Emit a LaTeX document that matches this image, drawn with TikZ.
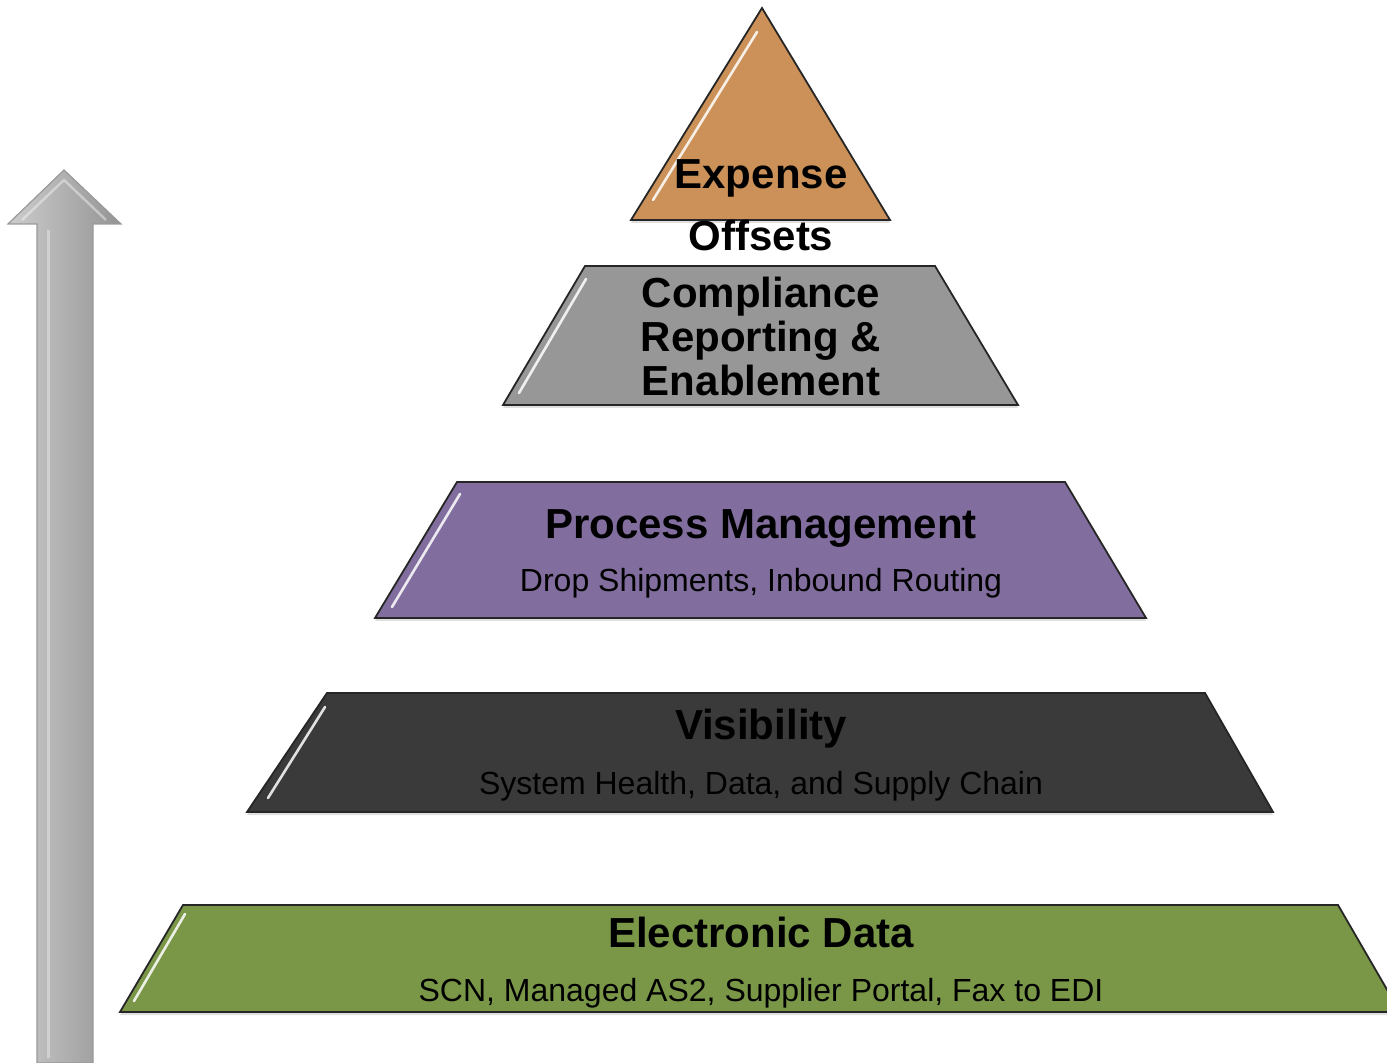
\documentclass[tikz,border=0pt]{standalone}
\usepackage{fontspec}
\setmainfont{Liberation Sans}
\usetikzlibrary{shadows}

\definecolor{expense}{RGB}{203,145,88}
\definecolor{compliance}{RGB}{151,151,151}
\definecolor{process}{RGB}{129,110,158}
\definecolor{visibility}{RGB}{58,58,58}
\definecolor{edata}{RGB}{122,151,72}

\begin{document}
\begin{tikzpicture}[x=0.5pt,y=-0.5pt,
    layer/.style={draw=black!85,line width=0.9pt,
      drop shadow={opacity=0.25,shadow xshift=0pt,shadow yshift=-1.5pt}},
    gloss/.style={white,line width=1.3pt,line cap=round,opacity=0.85},
    arrow body/.style={draw=black!40,line width=0.6pt,
      left color=black!20,middle color=black!30,right color=black!42},
    title node/.style={font=\fontsize{21}{31}\selectfont\bfseries,align=center},
    sub node/.style={font=\fontsize{16}{18}\selectfont}]
  \useasboundingbox (0,0) rectangle (1387,1063);

  % upward arrow
  \path[arrow body] (37,1063) -- (37,224) -- (8,224) -- (64,170) -- (121,224)
    -- (93,224) -- (93,1063) -- cycle;
  \draw[white,opacity=0.35,line width=1.5pt] (48,1058) -- (48,230);
  \draw[white,opacity=0.4,line width=1.2pt] (22,220) -- (64,180) -- (106,220);

  % pyramid layers
  \path[layer,fill=expense] (762,8) -- (890,220) -- (631,220) -- cycle;
  \path[layer,fill=compliance] (585,266) -- (935,266) -- (1018,405) -- (503,405) -- cycle;
  \path[layer,fill=process] (457,482) -- (1065,482) -- (1146,618) -- (375,618) -- cycle;
  \path[layer,fill=visibility] (327,693) -- (1205,693) -- (1273,812) -- (247,812) -- cycle;
  \path[layer,fill=edata] (183,905) -- (1338,905) -- (1400,1012) -- (120,1012) -- cycle;

  % gloss on the left edges
  \draw[gloss] (653,200) -- (757,32);
  \draw[gloss] (519,393) -- (586,279);
  \draw[gloss] (392,607) -- (460,494);
  \draw[gloss] (268,798) -- (325,707);
  \draw[gloss] (134,1001) -- (185,914);

  % texts
  \node[title node] (expense) at (761,205) {Expense\\Offsets};
  \node[title node,font=\fontsize{21}{22}\selectfont\bfseries] (compliance) at (761,336)
    {Compliance\\Reporting \&\\Enablement};
  \node[title node,anchor=base] (process) at (761,539) {Process Management};
  \node[sub node,anchor=base] (process sub) at (761,592) {Drop Shipments, Inbound Routing};
  \node[title node,anchor=base] (visibility) at (761,740) {Visibility};
  \node[sub node,anchor=base] (visibility sub) at (761,794) {System Health, Data, and Supply Chain};
  \node[title node,anchor=base] (edata) at (761,947) {Electronic Data};
  \node[sub node,anchor=base] (edata sub) at (761,1001) {SCN, Managed AS2, Supplier Portal, Fax to EDI};
\end{tikzpicture}
\end{document}
